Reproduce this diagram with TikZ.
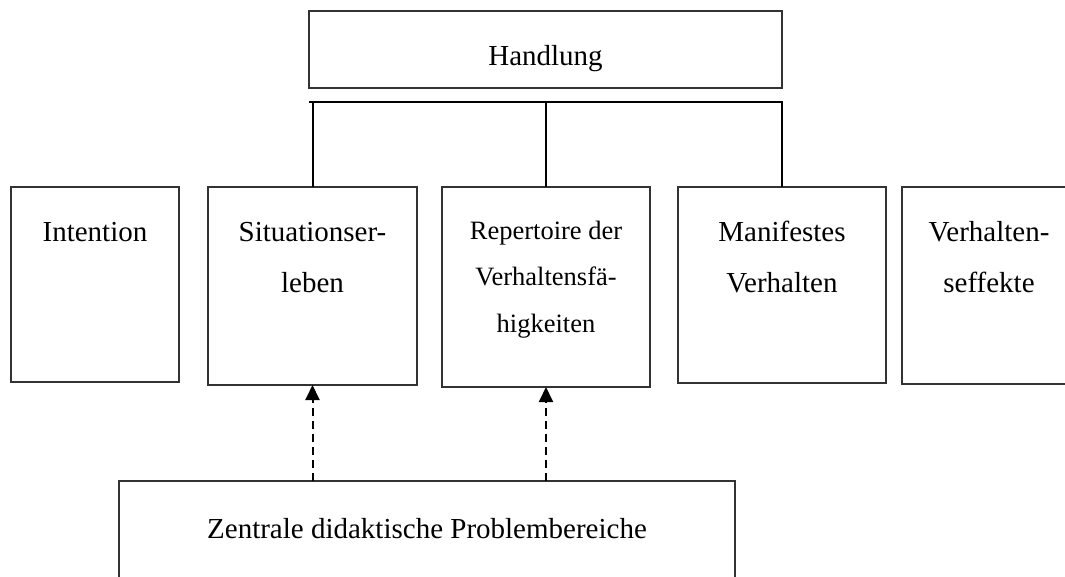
\documentclass[tikz,border=0pt]{standalone}
\usepackage{fontspec}
\setmainfont{Liberation Serif}
\usetikzlibrary{arrows.meta}
\definecolor{boxgray}{HTML}{333333}
\begin{document}
\begin{tikzpicture}[x=1pt,y=-1pt,
  box/.style={draw=boxgray, line width=1.3pt, inner sep=0pt, outer sep=0pt, anchor=north west},
  lbl/.style={anchor=base, inner sep=0pt, font=\fontsize{29}{35}\selectfont},
  slbl/.style={anchor=base, inner sep=0pt, font=\fontsize{26.5}{32}\selectfont},
  link/.style={draw=black, line width=2pt},
  dlink/.style={draw=black, line width=2pt, dash pattern=on 8pt off 5pt, -{Triangle[length=15pt,width=14pt]}}]
\useasboundingbox (0,0) rectangle (1065,576);
\clip (0,0) rectangle (1065,576);
% boxes
\node[box, minimum width=473pt, minimum height=77pt] (hand) at (309,11) {};
\node[box, minimum width=168pt, minimum height=195pt] (int) at (11,187) {};
\node[box, minimum width=209pt, minimum height=198pt] (sit) at (208,187) {};
\node[box, minimum width=208pt, minimum height=200pt] (rep) at (442,187) {};
\node[box, minimum width=208pt, minimum height=196pt] (man) at (678,187) {};
\node[box, minimum width=174pt, minimum height=197pt] (ver) at (902,187) {};
\node[box, minimum width=616pt, minimum height=140pt] (zen) at (119,481) {};
% texts
\node[lbl] (tHand) at (545.5,65) {Handlung};
\node[lbl] (tInt) at (95,241) {Intention};
\node[lbl] (tSit1) at (312.5,241) {Situationser-};
\node[lbl] (tSit2) at (312.5,292) {leben};
\node[slbl] (tRep1) at (546,239) {Repertoire der};
\node[slbl] (tRep2) at (546,285) {Verhaltensfä-};
\node[slbl] (tRep3) at (546,332) {higkeiten};
\node[lbl] (tMan1) at (782,241) {Manifestes};
\node[lbl] (tMan2) at (782,292) {Verhalten};
\node[lbl] (tVer1) at (989,241) {Verhalten-};
\node[lbl] (tVer2) at (989,292) {seffekte};
\node[lbl] (tZen) at (427,538) {Zentrale didaktische Problembereiche};
% connectors
\coordinate (barL) at (309,102);
\coordinate (barR) at (783,102);
\draw[link] (barL) -- (barR);
\draw[link] (sit.north) -- (sit.north |- barL);
\draw[link] (rep.north) -- (rep.north |- barL);
\draw[link] (man.north) -- (man.north |- barL);
\draw[dlink] (zen.north -| sit.south) -- (sit.south);
\draw[dlink] (zen.north -| rep.south) -- (rep.south);
\end{tikzpicture}
\end{document}
